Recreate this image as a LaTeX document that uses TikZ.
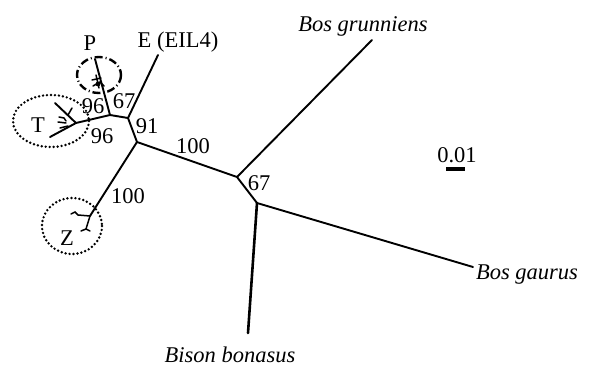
\documentclass[tikz,border=0pt]{standalone}
\usepackage{fontspec}
\setmainfont{Liberation Serif}
\begin{document}
\begin{tikzpicture}[x=1pt,y=-1pt,
  branch/.style={line width=1.9pt, line join=round, line cap=round},
  twig/.style={line width=1.5pt, line cap=round},
  lbl/.style={font=\fontsize{22.5}{24}\selectfont, inner sep=0pt, anchor=base},
  sp/.style={font=\fontsize{22.5}{24}\selectfont\itshape, inner sep=0pt, anchor=base},
  dotring/.style={line width=2.7pt, line cap=round, dash pattern=on 0pt off 4pt},
  dashring/.style={line width=2.4pt, dash pattern=on 8pt off 3pt on 1pt off 3pt}]
\useasboundingbox (0,0) rectangle (590,367);
% tree vertices
\coordinate (A) at (128,118);
\coordinate (B) at (137,142);
\coordinate (C) at (237,177);
\coordinate (D) at (257,203);
\coordinate (Tj) at (110,115);
\coordinate (Ptip) at (95,59);
\coordinate (Eend) at (158,55);
\coordinate (Tb) at (76,123);
\coordinate (Tend) at (50,137);
\coordinate (Tup) at (55,103);
\coordinate (Zj) at (90,216);
\coordinate (Grun) at (372,40);
\coordinate (Gaur) at (473,267);
\coordinate (Bison) at (248,333);
% branches
\draw[branch] (Eend) -- (A) -- (B) -- (C) -- (D) -- (Gaur);
\draw[branch] (C) -- (Grun);
\draw[branch, line width=2.6pt] (D) -- (Bison);
\draw[branch] (A) -- (Tj) -- (Tb) -- (Tend);
\draw[branch] (Tj) -- (Ptip);
\draw[branch] (Tb) -- (Tup);
\draw[branch] (B) -- (Zj);
% T twigs
\draw[twig] (68,115) -- (72,108);
\draw[twig] (59,117) -- (64,118) -- (66,121);
\draw[twig] (58,122) -- (66,123);
\draw[twig] (60,128) -- (68,126);
% P cluster
\draw[twig] (92,80) -- (101,78);
\draw[twig] (93,86) -- (100,82) -- (104,86);
\draw[twig] (96,75) -- (99,88);
\fill (98,84) circle (2.4pt);
% Z twigs
\draw[twig] (Zj) -- (78,215) -- (75,212) -- (71,214);
\draw[twig] (Zj) -- (86,229);
\draw[twig] (81,231) -- (86,229) -- (90,231);
% rings
\draw[dotring] (51,121) ellipse [x radius=38, y radius=26];
\draw[dashring] (99,75) ellipse [x radius=22, y radius=18];
\draw[dotring] (72,226) ellipse [x radius=30, y radius=28];
% labels
\node[lbl] (lE) at (178,47) {E (EIL4)};
\node[lbl] (lP) at (90,50) {P};
\node[lbl] (lT) at (38,132) {T};
\node[lbl] (lZ) at (67,245) {Z};
\node[lbl] (b1) at (93,113) {96};
\node[lbl] (b2) at (124,108) {67};
\node[lbl] (b3) at (102,143) {96};
\node[lbl] (b4) at (147,133) {91};
\node[lbl] (b5) at (193,153) {100};
\node[lbl] (b6) at (128,203) {100};
\node[lbl] (b7) at (259,190) {67};
\node[sp] (sG) at (363,31) {Bos grunniens};
\node[sp] (sA) at (527,279) {Bos gaurus};
\node[sp] (sB) at (230,362) {Bison bonasus};
\node[lbl] (sc) at (457,162) {0.01};
\coordinate (s1) at (446,169);
\coordinate (s2) at (465,169);
\draw[line width=3.5pt] (s1) -- (s2);
\end{tikzpicture}
\end{document}
